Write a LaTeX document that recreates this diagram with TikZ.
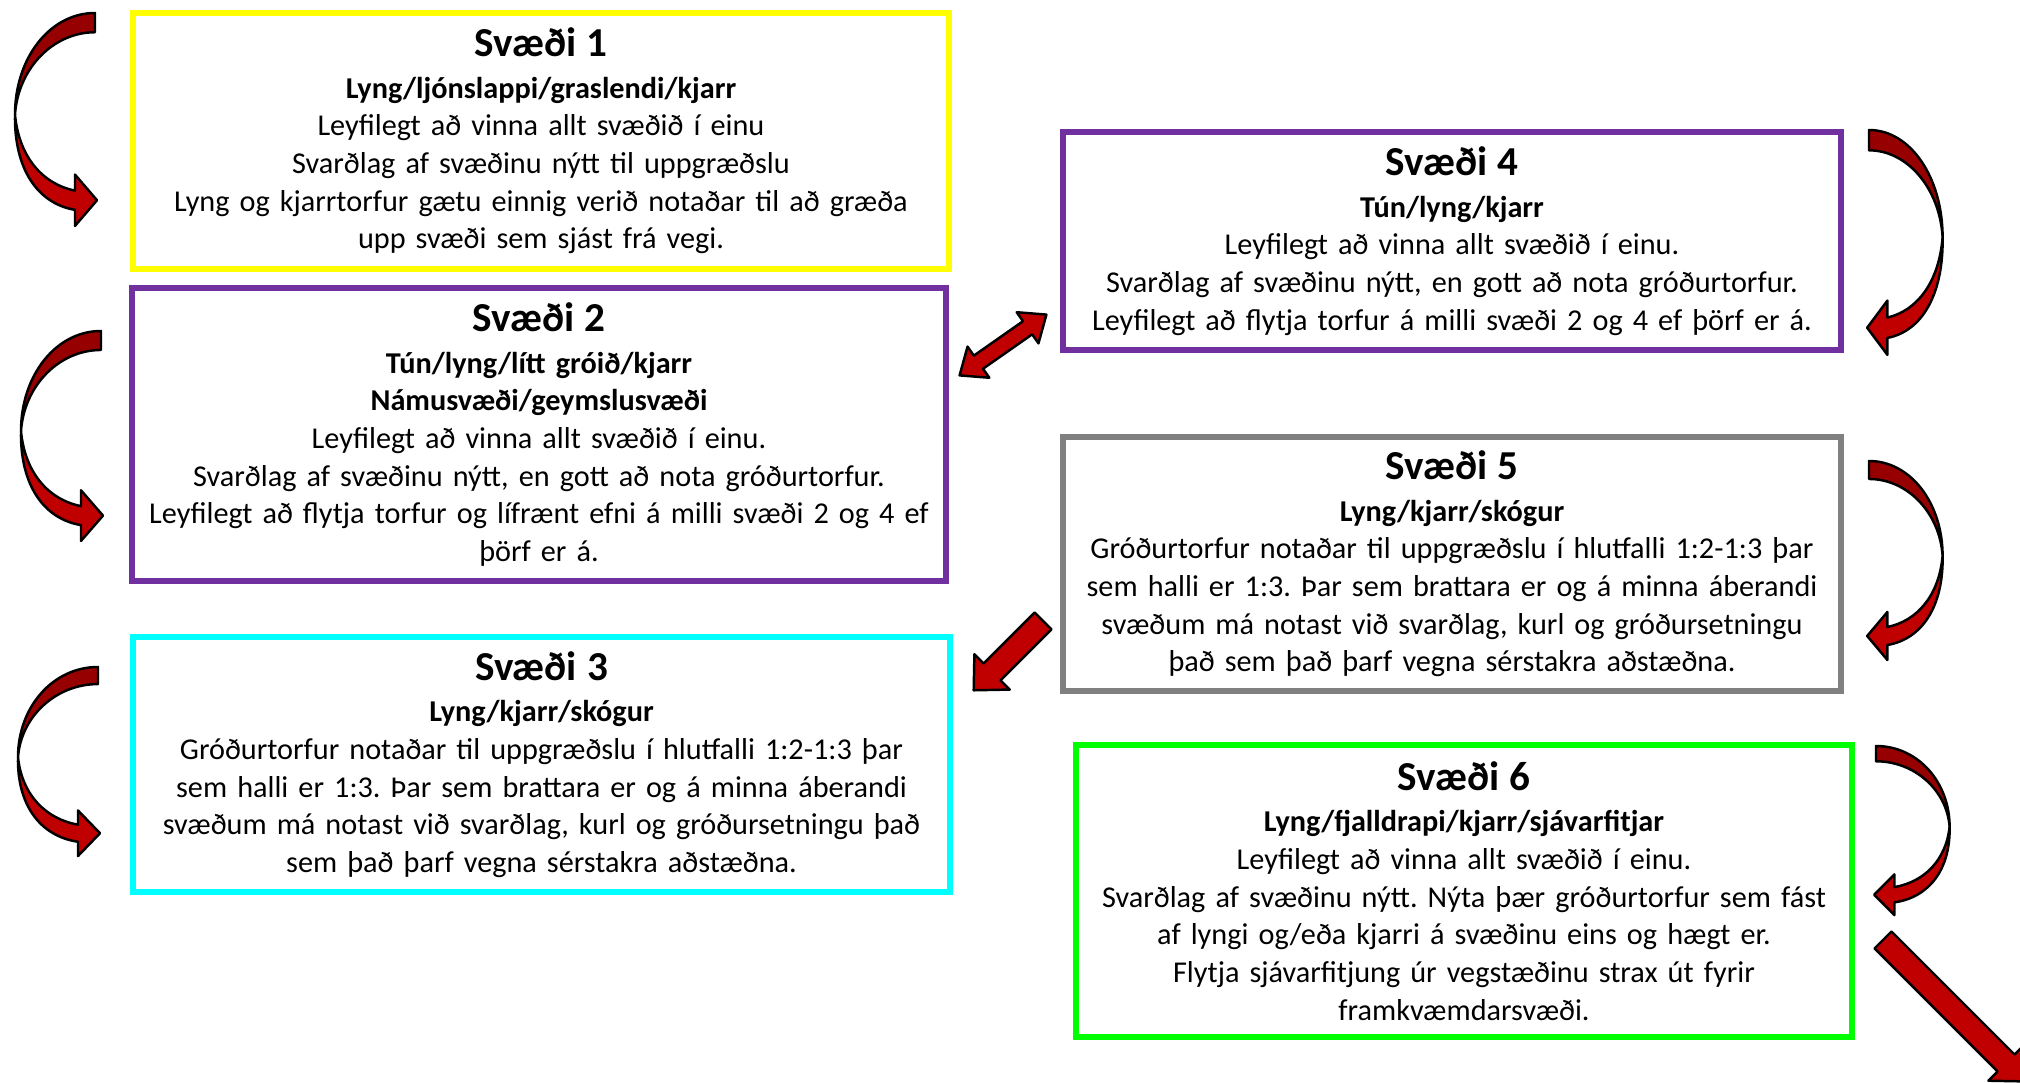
\documentclass[tikz,border=0pt]{standalone}
\usepackage{fontspec}
\setmainfont{Carlito}
\frenchspacing
\definecolor{zoneyellow}{HTML}{FFFF00}
\definecolor{zonepurple}{HTML}{7030A0}
\definecolor{zonecyan}{HTML}{00FFFF}
\definecolor{zonegray}{HTML}{808080}
\definecolor{zonegreen}{HTML}{00FF00}
\definecolor{arrowred}{HTML}{C00000}
\definecolor{arrowdark}{HTML}{960000}
\newcommand{\zonetitle}[1]{{\fontsize{11.7}{12.5}\selectfont\bfseries #1}\\[1.1pt]}
\newcommand{\blockarrow}[3]{\draw[arrowshape, shift={#1}, rotate=#2] (0,-12) -- (#3-26,-12) -- (#3-26,-25) -- (#3,0) -- (#3-26,25) -- (#3-26,12) -- (0,12) -- cycle;}
\begin{document}
\begin{tikzpicture}[x=0.01cm, y=-0.01cm,
    zone/.style={draw, line width=0.06cm, inner sep=0pt, align=center, font=\fontsize{8.6}{10.7}\selectfont},
    arrowshape/.style={draw=black, line width=0.7pt, line join=round, fill=arrowred},
    pics/curvedarr/.style={code={
        \draw[arrowshape, fill=arrowdark] (0,0) -- (0,18) .. controls (-42,18) and (-77,52) .. (-80,95)
            .. controls (-80,42) and (-45,0) .. (0,0) -- cycle;
        \draw[arrowshape] (-80,95) .. controls (-76,135) and (-52,160) .. (-20,166) -- (-20,151) -- (2,175)
            -- (-20,199) -- (-20,184) .. controls (-58,178) and (-81,145) .. (-80,95) -- cycle;
    }}]
    \clip (0,0) rectangle (2020,1083);
    \fill[white] (0,0) rectangle (2020,1083);
    \node[zone, draw=zoneyellow, text width=8.16cm, minimum height=2.56cm] (z1) at (541,141) {%
        \zonetitle{Svæði 1}
        \textbf{Lyng/ljónslappi/graslendi/kjarr}\\
        Leyfilegt að vinna allt svæðið í einu\\
        Svarðlag af svæðinu nýtt til uppgræðslu\\
        Lyng og kjarrtorfur gætu einnig verið notaðar til að græða\\
        upp svæði sem sjást frá vegi.};
    \node[zone, draw=zonepurple, text width=8.14cm, minimum height=2.93cm] (z2) at (539,434.5) {%
        \zonetitle{Svæði 2}
        \textbf{Tún/lyng/lítt gróið/kjarr}\\
        \textbf{Námusvæði/geymslusvæði}\\
        Leyfilegt að vinna allt svæðið í einu.\\
        Svarðlag af svæðinu nýtt, en gott að nota gróðurtorfur.\\
        Leyfilegt að flytja torfur og lífrænt efni á milli svæði 2 og 4 ef\\
        þörf er á.};
    \node[zone, draw=zonecyan, text width=8.17cm, minimum height=2.55cm] (z3) at (541.5,764.5) {%
        \zonetitle{Svæði 3}
        \textbf{Lyng/kjarr/skógur}\\
        Gróðurtorfur notaðar til uppgræðslu í hlutfalli 1:2-1:3 þar\\
        sem halli er 1:3. Þar sem brattara er og á minna áberandi\\
        svæðum má notast við svarðlag, kurl og gróðursetningu það\\
        sem það þarf vegna sérstakra aðstæðna.};
    \node[zone, draw=zonepurple, text width=7.78cm, minimum height=2.18cm] (z4) at (1452,241) {%
        \zonetitle{Svæði 4}
        \textbf{Tún/lyng/kjarr}\\
        Leyfilegt að vinna allt svæðið í einu.\\
        Svarðlag af svæðinu nýtt, en gott að nota gróðurtorfur.\\
        Leyfilegt að flytja torfur á milli svæði 2 og 4 ef þörf er á.};
    \node[zone, draw=zonegray, text width=7.78cm, minimum height=2.54cm] (z5) at (1452,564) {%
        \zonetitle{Svæði 5}
        \textbf{Lyng/kjarr/skógur}\\
        Gróðurtorfur notaðar til uppgræðslu í hlutfalli 1:2-1:3 þar\\
        sem halli er 1:3. Þar sem brattara er og á minna áberandi\\
        svæðum má notast við svarðlag, kurl og gróðursetningu\\
        það sem það þarf vegna sérstakra aðstæðna.};
    \node[zone, draw=zonegreen, text width=7.76cm, minimum height=2.92cm] (z6) at (1464,891) {%
        \zonetitle{Svæði 6}
        \textbf{Lyng/fjalldrapi/kjarr/sjávarfitjar}\\
        Leyfilegt að vinna allt svæðið í einu.\\
        Svarðlag af svæðinu nýtt. Nýta þær gróðurtorfur sem fást\\
        af lyngi og/eða kjarri á svæðinu eins og hægt er.\\
        Flytja sjávarfitjung úr vegstæðinu strax út fyrir\\
        framkvæmdarsvæði.};
    \pic[yscale=1.07] at (95,13) {curvedarr};
    \pic[yscale=1.055] at (101,331) {curvedarr};
    \pic[yscale=0.95] at (98,667) {curvedarr};
    \pic[xscale=-0.92, yscale=1.13] at (1869,130) {curvedarr};
    \pic[xscale=-0.92, yscale=1.0] at (1869,461) {curvedarr};
    \pic[xscale=-0.92, yscale=0.85] at (1876,746) {curvedarr};
    \draw[arrowshape, shift={(1003,345)}, rotate=35] (-53,0) -- (-30,-19) -- (-30,-8) -- (30,-8) -- (30,-19)
        -- (53,0) -- (30,19) -- (30,8) -- (-30,8) -- (-30,19) -- cycle;
    \blockarrow{(1043,621)}{225}{98}
    \blockarrow{(1883,940)}{-45}{200}
\end{tikzpicture}
\end{document}
